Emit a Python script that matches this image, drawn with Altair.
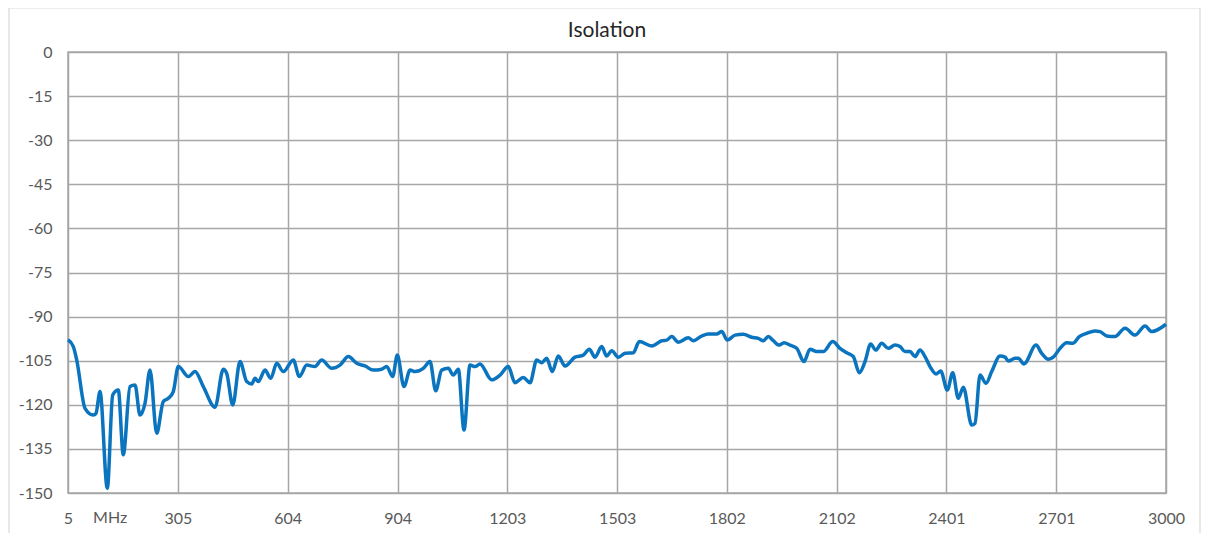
import altair as alt
import pandas as pd

# Frequency (MHz) and isolation (dB)
freq = [5, 19.5, 28.7, 51.4, 74.0, 81.4, 92.3, 112.2, 126.9, 142.2, 155.8, 174.1, 187.8,
        201.4, 215.0, 228.7, 246.9, 264.9, 278.6, 292.2, 305.9, 333.1, 351.4, 374.1,
        406.0, 428.6, 437.9, 454.3, 474.2, 492.4, 506.1, 515.1, 524.0, 542.4, 558.0,
        574.3, 592.3, 619.6, 636.0, 656.1, 678.7, 697.0, 724.3, 746.9, 769.6, 792.5,
        815.1, 837.8, 860.7, 874.3, 890.7, 903.2, 921.5, 937.9, 951.5, 974.2, 992.4,
        1008.0, 1024.3, 1042.3, 1056.0, 1069.6, 1085.2, 1101.5, 1115.2, 1128.8, 1160.7,
        1183.4, 1206.0, 1224.3, 1246.9, 1265.2, 1283.5, 1297.1, 1310.7, 1326.0, 1342.4,
        1360.7, 1388.0, 1410.6, 1427.0, 1442.5, 1460.8, 1474.4, 1488.1, 1506.1, 1524.4,
        1547.0, 1563.4, 1597.2, 1624.5, 1638.1, 1651.8, 1669.8, 1697.0, 1710.7, 1733.6,
        1751.6, 1774.5, 1788.1, 1803.4, 1824.4, 1847.0, 1869.9, 1887.9, 1901.6, 1915.2,
        1928.9, 1945.2, 1958.0, 1974.4, 1992.7, 2012.6, 2029.0, 2047.2, 2065.2, 2090.9,
        2110.8, 2129.1, 2147.1, 2163.5, 2179.0, 2194.5, 2208.2, 2224.6, 2242.5, 2260.8,
        2274.4, 2288.1, 2301.7, 2315.4, 2329.0, 2342.6, 2356.3, 2372.7, 2385.5, 2403.5,
        2418.2, 2433.5, 2447.1, 2470.0, 2479.0, 2492.7, 2509.0, 2524.6, 2547.2, 2560.9,
        2570.0, 2588.1, 2597.1, 2612.7, 2645.4, 2660.9, 2678.9, 2692.6, 2710.9, 2729.1,
        2745.5, 2763.5, 2783.7, 2806.3, 2820.0, 2838.3, 2860.9, 2888.2, 2915.5, 2942.8,
        2961.0, 2983.7, 3000.0]
isolation = [-97.9, -100.2, -104.7, -121.2, -123.5, -122.9, -115.5, -148.4, -116.7, -115.0,
             -137.0, -113.8, -113.3, -123.5, -119.5, -108.2, -129.7, -118.9, -117.8, -115.5,
             -107.0, -110.4, -108.7, -113.8, -120.8, -107.9, -109.3, -120.1, -105.3, -112.1,
             -112.9, -111.0, -112.1, -108.2, -111.0, -105.9, -108.7, -104.8, -110.4, -106.5,
             -107.0, -104.8, -107.6, -106.5, -103.6, -105.9, -106.8, -108.2, -107.9, -107.0,
             -110.4, -103.1, -113.8, -108.2, -108.7, -107.6, -105.3, -115.2, -108.2, -107.6,
             -109.9, -107.9, -128.6, -106.5, -107.0, -106.1, -111.5, -109.9, -107.0, -112.5,
             -110.7, -112.5, -104.8, -105.7, -104.2, -108.7, -103.4, -106.8, -103.8, -103.1,
             -101.1, -103.8, -100.2, -103.4, -101.6, -103.8, -102.5, -102.3, -98.5, -100.0,
             -98.2, -98.0, -96.8, -98.7, -97.2, -98.2, -96.6, -95.9, -95.9, -95.1, -98.0,
             -96.3, -96.0, -97.0, -97.4, -98.2, -96.8, -98.2, -99.7, -98.9, -99.7, -100.8,
             -105.3, -101.1, -101.9, -101.9, -98.5, -100.8, -102.3, -103.6, -109.1, -105.3,
             -99.3, -101.4, -99.1, -100.8, -99.7, -100.2, -101.9, -101.9, -103.6, -101.4,
             -103.6, -107.0, -109.5, -108.5, -115.0, -109.1, -117.8, -114.0, -126.9, -126.3,
             -109.9, -112.7, -108.7, -103.4, -103.8, -105.1, -104.2, -104.2, -106.1, -99.7,
             -102.5, -104.5, -103.8, -100.8, -98.9, -99.1, -96.8, -95.7, -94.9, -95.1, -96.6,
             -96.8, -94.0, -96.3, -93.2, -95.1, -94.0, -92.6]

x_ticks = [5, 305, 604, 904, 1203, 1503, 1802, 2102, 2401, 2701, 3000]
y_ticks = [0, -15, -30, -45, -60, -75, -90, -105, -120, -135, -150]
unit_label = ["MHz"]
unit_pos = [120]
title_text = ["Isolation"]

FONT = "Lato"
GRID = "#A6A6A6"
LABEL = "#595959"

df = pd.DataFrame({"freq": freq, "iso": isolation})
unit_df = pd.DataFrame({"f": unit_pos, "t": unit_label})
title_df = pd.DataFrame({"t": title_text})

x_enc = alt.X("freq:Q", scale=alt.Scale(domain=[5, 3000], nice=False, zero=False),
              axis=alt.Axis(values=x_ticks, title=None, grid=True, gridColor=GRID,
                            gridWidth=1.5, domain=False, ticks=False, labelPadding=17,
                            labelExpr="'' + datum.value",
                            labelFont=FONT, labelFontSize=16, labelColor=LABEL,
                            labelOverlap=False, labelFlush=False))
y_enc = alt.Y("iso:Q", scale=alt.Scale(domain=[-150, 0], nice=False, zero=False),
              axis=alt.Axis(values=y_ticks, title=None, grid=True, gridColor=GRID,
                            gridWidth=1.5, domain=False, ticks=False, labelPadding=16,
                            labelExpr="'' + datum.value",
                            labelFont=FONT, labelFontSize=16, labelColor=LABEL,
                            labelFlush=False))

line = alt.Chart(df).mark_line(color="#0A74BF", strokeWidth=3.5,
                               interpolate="monotone").encode(x=x_enc, y=y_enc)

unit = alt.Chart(unit_df).mark_text(font=FONT, fontSize=16, color=LABEL,
                                    baseline="top").encode(
    x=alt.X("f:Q"), y=alt.value(458), text="t:N")

title = alt.Chart(title_df).mark_text(font=FONT, fontSize=21, color="#262626",
                                      baseline="middle", align="center").encode(
    x=alt.value(539), y=alt.value(-21), text="t:N")

border = alt.Chart(pd.DataFrame({"a": [0]})).mark_rect(
    fill=None, fillOpacity=0, stroke="#D9D9D9", strokeWidth=1.2).encode(
    x=alt.value(-59), x2=alt.value(1132), y=alt.value(-44), y2=alt.value(520))

chart = alt.layer(border, line, unit, title).properties(
    width=1098, height=441,
    autosize=alt.AutoSizeParams(type="none"),
    padding={"left": 60, "top": 44, "right": 35, "bottom": 40},
).configure_view(stroke=GRID, strokeWidth=1.5)

chart.save("out.html", embed_options={"renderer": "svg", "actions": False})
